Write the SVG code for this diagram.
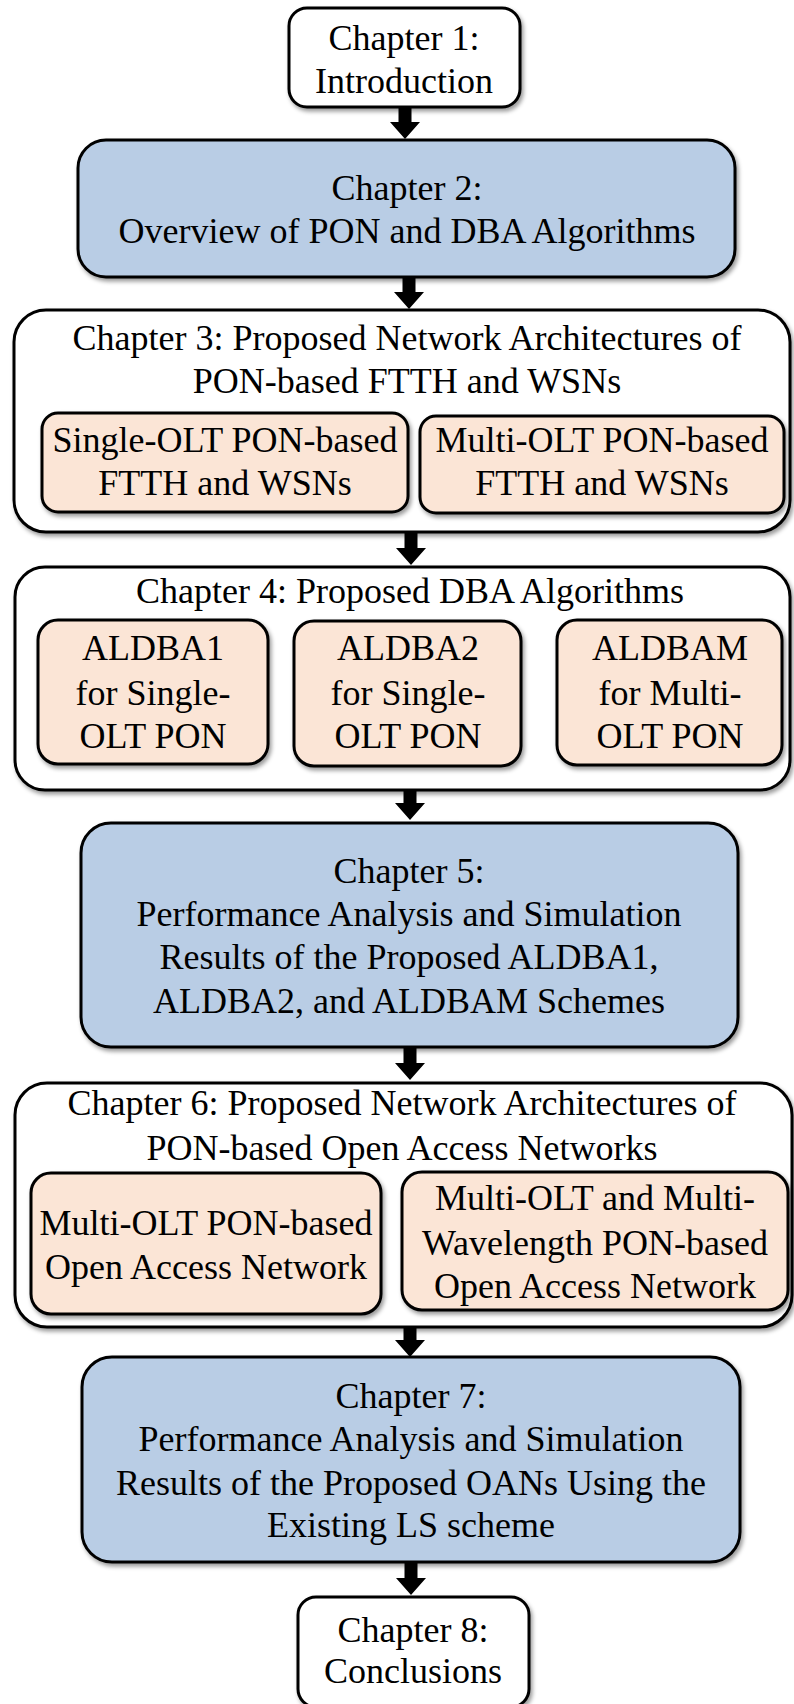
<svg xmlns="http://www.w3.org/2000/svg" width="794" height="1704" viewBox="0 0 794 1704">
  <defs>
    <filter id="shadow" x="-5%" y="-5%" width="115%" height="120%">
      <feDropShadow dx="2" dy="3" stdDeviation="2" flood-color="#000" flood-opacity="0.4"/>
    </filter>
    <style>
      .box { stroke: #000; stroke-width: 3; filter: url(#shadow); }
      .plain { fill: #ffffff; }
      .blue { fill: #b9cde5; }
      .peach { fill: #fbe5d6; }
      text { font-family: "Liberation Serif", "Times New Roman", serif; font-size: 36px; fill: #000; text-anchor: middle; }
      .arrow { fill: #000; stroke: none; }
    </style>
  </defs>
  <rect width="794" height="1704" fill="#ffffff"/>

  <!-- Chapter 1 -->
  <g id="ch1">
    <rect class="box plain" x="289" y="8" width="231" height="99" rx="18"/>
    <text x="404" y="50">Chapter 1:</text>
    <text x="404" y="93">Introduction</text>
  </g>

  <!-- Chapter 2 -->
  <g id="ch2">
    <rect class="box blue" x="78" y="140" width="657" height="137" rx="28"/>
    <text x="407" y="200">Chapter 2:</text>
    <text x="407" y="243">Overview of PON and DBA Algorithms</text>
  </g>

  <!-- Chapter 3 with its two architectures -->
  <g id="ch3">
    <rect class="box plain" x="14" y="310" width="776" height="222" rx="32"/>
    <text x="407" y="350">Chapter 3: Proposed Network Architectures of</text>
    <text x="407" y="393">PON-based FTTH and WSNs</text>
    <g id="ch3-single">
      <rect class="box peach" x="42" y="413" width="366" height="99" rx="16"/>
      <text x="225" y="452">Single-OLT PON-based</text>
      <text x="225" y="495">FTTH and WSNs</text>
    </g>
    <g id="ch3-multi">
      <rect class="box peach" x="420" y="416" width="364" height="97" rx="16"/>
      <text x="602" y="452">Multi-OLT PON-based</text>
      <text x="602" y="495">FTTH and WSNs</text>
    </g>
  </g>

  <!-- Chapter 4 with its three algorithms -->
  <g id="ch4">
    <rect class="box plain" x="15" y="567" width="775" height="223" rx="30"/>
    <text x="410" y="603">Chapter 4: Proposed DBA Algorithms</text>
    <g id="ch4-aldba1">
      <rect class="box peach" x="38" y="620" width="230" height="144" rx="20"/>
      <text x="153" y="660">ALDBA1</text>
      <text x="153" y="705">for Single-</text>
      <text x="153" y="748">OLT PON</text>
    </g>
    <g id="ch4-aldba2">
      <rect class="box peach" x="294" y="621" width="227" height="145" rx="20"/>
      <text x="408" y="660">ALDBA2</text>
      <text x="408" y="705">for Single-</text>
      <text x="408" y="748">OLT PON</text>
    </g>
    <g id="ch4-aldbam">
      <rect class="box peach" x="557" y="620" width="225" height="145" rx="20"/>
      <text x="670" y="660">ALDBAM</text>
      <text x="670" y="705">for Multi-</text>
      <text x="670" y="748">OLT PON</text>
    </g>
  </g>

  <!-- Chapter 5 -->
  <g id="ch5">
    <rect class="box blue" x="81" y="823" width="657" height="224" rx="30"/>
    <text x="409" y="883">Chapter 5:</text>
    <text x="409" y="926">Performance Analysis and Simulation</text>
    <text x="409" y="969">Results of the Proposed ALDBA1,</text>
    <text x="409" y="1013">ALDBA2, and ALDBAM Schemes</text>
  </g>

  <!-- Chapter 6 with its two open access networks -->
  <g id="ch6">
    <rect class="box plain" x="15" y="1083" width="777" height="244" rx="32"/>
    <text x="402" y="1115">Chapter 6: Proposed Network Architectures of</text>
    <text x="402" y="1160">PON-based Open Access Networks</text>
    <g id="ch6-multi-olt">
      <rect class="box peach" x="31" y="1173" width="350" height="141" rx="20"/>
      <text x="206" y="1235">Multi-OLT PON-based</text>
      <text x="206" y="1279">Open Access Network</text>
    </g>
    <g id="ch6-multi-wavelength">
      <rect class="box peach" x="402" y="1172" width="386" height="138" rx="20"/>
      <text x="595" y="1210">Multi-OLT and Multi-</text>
      <text x="595" y="1255">Wavelength PON-based</text>
      <text x="595" y="1298">Open Access Network</text>
    </g>
  </g>

  <!-- Chapter 7 -->
  <g id="ch7">
    <rect class="box blue" x="82" y="1357" width="658" height="205" rx="30"/>
    <text x="411" y="1408">Chapter 7:</text>
    <text x="411" y="1451">Performance Analysis and Simulation</text>
    <text x="411" y="1495">Results of the Proposed OANs Using the</text>
    <text x="411" y="1537">Existing LS scheme</text>
  </g>

  <!-- Chapter 8 -->
  <g id="ch8">
    <rect class="box plain" x="298" y="1597" width="231" height="110" rx="18"/>
    <text x="413" y="1642">Chapter 8:</text>
    <text x="413" y="1683">Conclusions</text>
  </g>

  <!-- Block arrows between chapters -->
  <g id="connectors">
    <polygon class="arrow" points="398.5,106 411.5,106 411.5,122 420,122 405,139 390,122 398.5,122"/>
    <polygon class="arrow" points="402.5,276 415.5,276 415.5,292 424,292 409,309 394,292 402.5,292"/>
    <polygon class="arrow" points="404.5,531 417.5,531 417.5,548 426,548 411,565 396,548 404.5,548"/>
    <polygon class="arrow" points="403.5,789 416.5,789 416.5,803 425,803 410,820 395,803 403.5,803"/>
    <polygon class="arrow" points="403.5,1046 416.5,1046 416.5,1063 425,1063 410,1080 395,1063 403.5,1063"/>
    <polygon class="arrow" points="403.5,1326 416.5,1326 416.5,1340 425,1340 410,1357 395,1340 403.5,1340"/>
    <polygon class="arrow" points="404.5,1561 417.5,1561 417.5,1578 426,1578 411,1595 396,1578 404.5,1578"/>
  </g>
</svg>
